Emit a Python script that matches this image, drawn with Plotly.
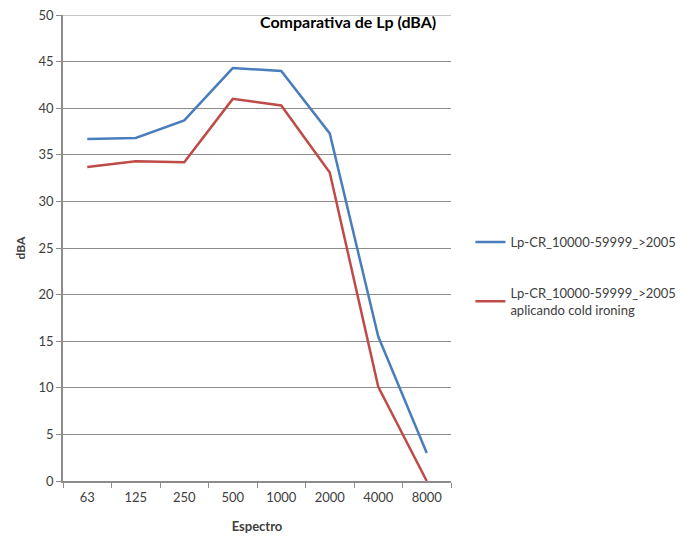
import plotly.graph_objects as go

categories = ["63", "125", "250", "500", "1000", "2000", "4000", "8000"]
lp_base = [36.7, 36.8, 38.7, 44.3, 44.0, 37.3, 15.5, 3.0]
lp_cold = [33.7, 34.3, 34.2, 41.0, 40.3, 33.1, 10.1, 0.0]
name_base = "Lp-CR_10000-59999_>2005"
name_cold = "Lp-CR_10000-59999_>2005<br>aplicando cold ironing"
y_max = 50

FONT = "Lato, 'Open Sans', sans-serif"
TXT = "#404040"
GRID = "#8c8c8c"

fig = go.Figure()
fig.add_trace(go.Scatter(x=categories, y=lp_base, mode="lines", name=name_base,
                         line=dict(color="#4a7ebb", width=2.5), legendgroup="a"))
fig.add_trace(go.Scatter(x=categories, y=lp_cold, mode="lines", name=name_cold,
                         line=dict(color="#be4b48", width=2.5), legendgroup="b"))

fig.update_layout(
    width=691, height=536,
    margin=dict(l=55, r=248, t=7, b=63, autoexpand=False),
    paper_bgcolor="white", plot_bgcolor="white",
    font=dict(family=FONT, color=TXT, size=13),
    showlegend=True,
    legend=dict(x=1.05, xanchor="left", y=0.44, yanchor="middle",
                font=dict(size=13, color=TXT), tracegroupgap=31,
                itemwidth=30, bgcolor="rgba(0,0,0,0)"),
    annotations=[dict(text="<b>Comparativa de Lp (dBA)</b>", x=0.735, y=0.985,
                      xref="paper", yref="paper", xanchor="center", yanchor="middle",
                      showarrow=False, font=dict(size=16, color="black", family=FONT))],
    shapes=[dict(type="line", xref="paper", yref="y", x0=0, x1=1, y0=y_max, y1=y_max,
                 line=dict(color=GRID, width=1), layer="below")],
)
fig.update_xaxes(type="category", showgrid=False, showline=True, linecolor=GRID, linewidth=1.5,
                 ticks="outside", tickson="boundaries", ticklen=5, tickcolor=GRID,
                 tickfont=dict(size=13, color=TXT), automargin=False, ticklabelstandoff=4,
                 title=dict(text="<b>Espectro</b>", font=dict(size=13, color=TXT), standoff=18),
                 range=[-0.5, 7.5], fixedrange=True)
fig.update_yaxes(range=[0, y_max], dtick=5, showgrid=True, gridcolor=GRID, gridwidth=1,
                 showline=True, linecolor=GRID, linewidth=1.5, zeroline=False,
                 ticks="outside", ticklen=5, tickcolor=GRID, ticklabeloverflow="allow",
                 tickfont=dict(size=13, color=TXT), automargin=False,
                 title=dict(text="<b>dBA</b>", font=dict(size=12, color=TXT), standoff=10))

fig.write_html("out.html")
